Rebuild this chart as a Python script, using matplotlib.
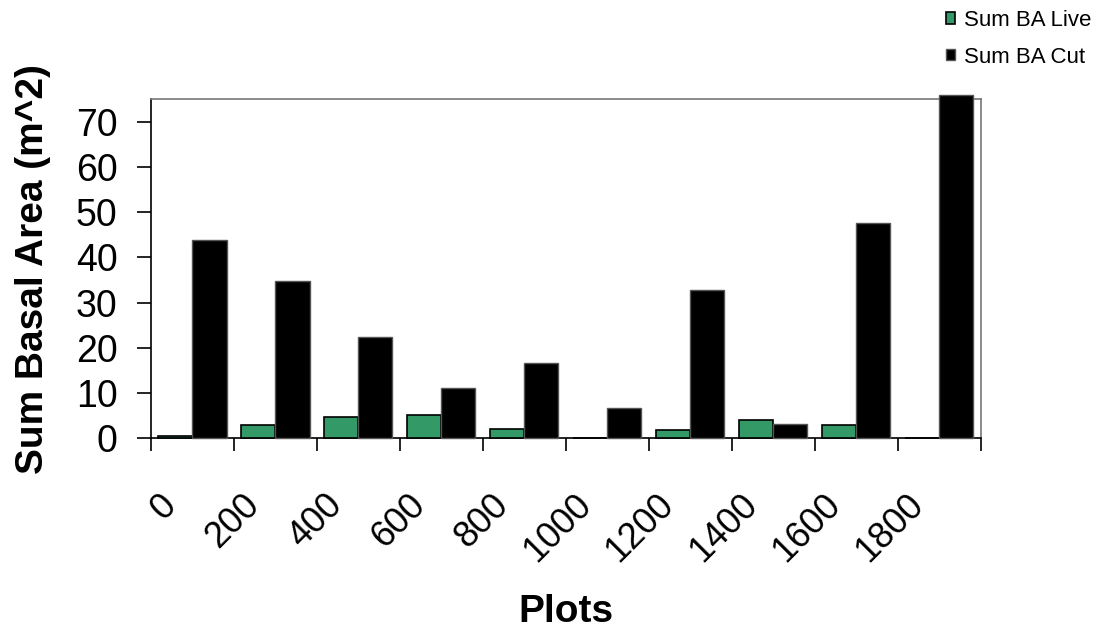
import numpy as np
import matplotlib.pyplot as plt
from matplotlib.transforms import ScaledTranslation

plt.rcParams['font.family'] = ['Liberation Sans', 'DejaVu Sans']

plots = ['0', '200', '400', '600', '800', '1000', '1200', '1400', '1600', '1800']
ba_live = [0.4, 3.0, 4.8, 5.2, 2.1, 0.0, 1.8, 4.1, 3.0, 0.0]
ba_cut = [43.9, 34.7, 22.5, 11.1, 16.6, 6.8, 32.9, 3.1, 47.6, 76.0]

fig = plt.figure(figsize=(10.98, 6.39), dpi=100)
ax = fig.add_axes([0.1375, 0.3141, 0.7559, 0.5305])

x = np.arange(len(plots))
w = 0.41
ax.bar(x - w / 2, ba_live, w, color='#339966', edgecolor='black', linewidth=1.2,
       label='Sum BA Live', clip_on=False, zorder=3)
ax.bar(x + w / 2, ba_cut, w, color='black', edgecolor='#555555', linewidth=1.0,
       label='Sum BA Cut', clip_on=False, zorder=3)

ax.set_xlim(-0.5, len(plots) - 0.5)
ax.set_ylim(0, 75)
ax.set_yticks(range(0, 80, 10))
ax.tick_params(axis='y', labelsize=27, length=10, width=1.2, direction='out', pad=14)

ax.set_xticks(x)
ax.set_xticklabels(plots, rotation=45, ha='right', va='top', rotation_mode='anchor', fontsize=26)
ax.tick_params(axis='x', which='major', length=0, pad=0)
# shift the rotated labels like the original (Excel style)
offset = ScaledTranslation(-0.34, -0.49, fig.dpi_scale_trans)
for lab in ax.get_xticklabels():
    lab.set_transform(lab.get_transform() + offset)
ax.set_xticks(np.arange(-0.5, len(plots)), minor=True)
ax.tick_params(axis='x', which='minor', length=9.5, width=1.2, direction='out')

for s in ['top', 'right']:
    ax.spines[s].set_color('#777777')
    ax.spines[s].set_linewidth(1.2)
for s in ['left', 'bottom']:
    ax.spines[s].set_linewidth(1.2)

ax.set_ylabel('Sum Basal Area (m^2)', fontsize=28, fontweight='bold')
ax.yaxis.set_label_coords(-0.12, 0.5)
ax.set_xlabel('Plots', fontsize=28, fontweight='bold')
ax.xaxis.set_label_coords(0.5, -0.46)

ax.legend(loc='upper left', bbox_to_anchor=(946 / 1098, 1 - 10 / 639), bbox_transform=fig.transFigure,
          frameon=False, fontsize=16, handlelength=0.42, handleheight=0.42,
          handletextpad=0.4, labelspacing=0.7, borderpad=0, borderaxespad=0)

fig.savefig('out.png', dpi=100)
